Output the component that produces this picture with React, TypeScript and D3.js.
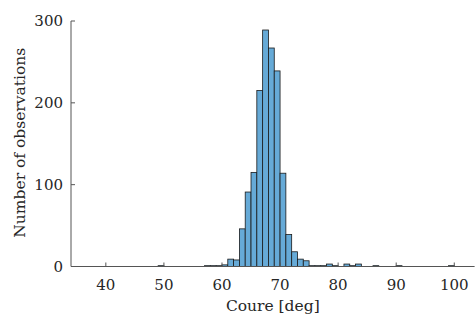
import React from "react";
import * as d3 from "d3";

// histogram bins (left edge, width 1 deg) and counts
const binStarts = [49, 57, 58, 59, 60, 61, 62, 63, 64, 65, 66, 67, 68, 69, 70, 71, 72, 73, 74, 75, 76, 77, 78, 79, 81, 82, 83, 86, 90, 99];
const counts = [1, 1, 1, 1, 2, 9, 8, 46, 91, 115, 215, 289, 267, 239, 114, 39, 18, 9, 7, 1, 1, 1, 3, 1, 3, 1, 3, 1, 1, 1];
const xTicks = [40, 50, 60, 70, 80, 90, 100];
const yTicks = [0, 100, 200, 300];
const binWidth = 1;

const W = 476;
const H = 322;
const font = "'DejaVu Serif', serif";
const axisColor = "#555";
const textColor = "#262626";

const App = () => {
  const x = d3.scaleLinear().domain([34, 103.5]).range([71, 474.6]);
  const y = d3.scaleLinear().domain([0, 300]).range([266.5, 21]);
  const [x0, x1] = x.range();
  const [y0, y1] = y.range();

  const bins = binStarts.map((s, i) => ({ s, c: counts[i] }));

  return (
    <div style={{ position: "absolute", left: 0, top: 0 }}>
      <svg width={W} height={H} style={{ display: "block" }}>
        <rect width={W} height={H} fill="#fff" />
        <g>
          {bins.map((b) => (
            <rect
              key={b.s}
              x={x(b.s)}
              y={y(b.c)}
              width={x(b.s + binWidth) - x(b.s)}
              height={y(0) - y(b.c)}
              fill="#66aad7"
              stroke="#1a1a1a"
              strokeWidth={0.8}
            />
          ))}
        </g>
        {/* axes */}
        <line x1={x0} x2={x1} y1={y0} y2={y0} stroke={axisColor} strokeWidth={1} />
        <line x1={x0} x2={x0} y1={y0} y2={y1} stroke={axisColor} strokeWidth={1} />
        {xTicks.map((t) => (
          <g key={t}>
            <line x1={x(t)} x2={x(t)} y1={y0} y2={y0 - 4} stroke={axisColor} strokeWidth={1} />
            <text
              x={x(t)}
              y={290}
              textAnchor="middle"
              fontFamily={font}
              fontSize={15}
              fill={textColor}
            >
              {t}
            </text>
          </g>
        ))}
        {yTicks.map((t) => (
          <g key={t}>
            <line x1={x0} x2={x0 + 4} y1={y(t)} y2={y(t)} stroke={axisColor} strokeWidth={1} />
            <text
              x={63}
              y={y(t)}
              dy="0.35em"
              textAnchor="end"
              fontFamily={font}
              fontSize={15}
              fill={textColor}
            >
              {t}
            </text>
          </g>
        ))}
        <text
          x={(x0 + x1) / 2}
          y={311}
          textAnchor="middle"
          fontFamily={font}
          fontSize={15.5}
          fill={textColor}
        >
          Coure [deg]
        </text>
        <text
          transform={`translate(25,${(y0 + y1) / 2 - 1}) rotate(-90)`}
          textAnchor="middle"
          fontFamily={font}
          fontSize={15.5}
          fill={textColor}
        >
          Number of observations
        </text>
      </svg>
    </div>
  );
};

export default App;
